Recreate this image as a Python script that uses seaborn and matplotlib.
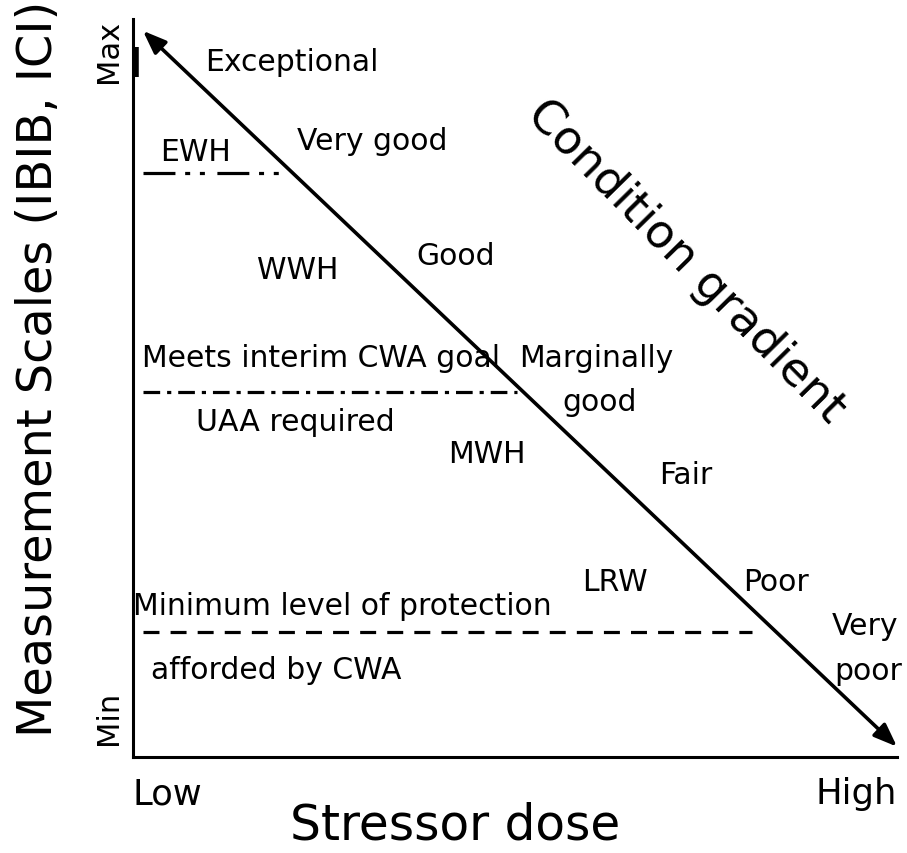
import matplotlib
matplotlib.use("Agg")
import matplotlib.pyplot as plt
import seaborn as sns
import pandas as pd

# ---- data ----
gradient_start = [0.013, 0.984]   # Low dose / Max condition
gradient_end = [1.0, 0.014]       # High dose / Min condition

threshold_names = ["EWH", "Interim CWA goal", "Minimum protection"]
threshold_y = [0.791, 0.495, 0.169]
threshold_x0 = [0.013, 0.013, 0.013]
threshold_x1 = [0.192, 0.503, 0.81]

condition_labels = ["Exceptional", "Very good", "Good", "Marginally", "good",
                    "Fair", "Poor", "Very", "poor"]
condition_x = [0.208, 0.313, 0.423, 0.606, 0.611, 0.724, 0.842, 0.958, 0.962]
condition_y = [0.943, 0.835, 0.680, 0.542, 0.482, 0.383, 0.238, 0.178, 0.117]

use_labels = ["EWH", "WWH", "Meets interim CWA goal", "UAA required", "MWH", "LRW",
              "Minimum level of protection", "afforded by CWA"]
use_x = [0.082, 0.216, 0.246, 0.212, 0.463, 0.631, 0.274, 0.188]
use_y = [0.821, 0.661, 0.542, 0.455, 0.411, 0.238, 0.205, 0.119]

x_tick_labels = ["Low", "High"]
y_tick_labels = ["Min", "Max"]

# ---- style ----
sns.set_theme(style="white")
plt.rcParams["font.family"] = ["DejaVu Sans"]
plt.rcParams["lines.scale_dashes"] = False
plt.rcParams["text.color"] = "black"
plt.rcParams["axes.labelcolor"] = "black"
plt.rcParams["xtick.color"] = "black"
plt.rcParams["ytick.color"] = "black"

fig = plt.figure(figsize=(9.07, 8.54), dpi=100)
ax = fig.add_axes([133 / 907, 1 - 758 / 854, 764 / 907, 738 / 854])
ax.set_xlim(0, 1)
ax.set_ylim(0, 1)

dash_styles = [(0, (23, 7, 3.6, 7, 3.6, 9)), (0, (12, 5, 3, 5)), (0, (11.5, 8))]
for name, y, x0, x1, ls in zip(threshold_names, threshold_y, threshold_x0, threshold_x1, dash_styles):
    df = pd.DataFrame({"x": [x0, x1], "y": [y, y]})
    sns.lineplot(data=df, x="x", y="y", ax=ax, color="black", lw=2.3,
                 linestyle=ls, estimator=None, sort=False, legend=False)

# condition gradient arrow
ax.annotate("", xy=gradient_end, xytext=gradient_start,
            arrowprops=dict(arrowstyle="<|-|>,head_length=0.7,head_width=0.27",
                            color="black", lw=2.6, mutation_scale=20,
                            shrinkA=0, shrinkB=0))

for t, x, y in zip(condition_labels, condition_x, condition_y):
    ax.text(x, y, t, ha="center", va="center", fontsize=21.5, color="black")
for t, x, y in zip(use_labels, use_x, use_y):
    ax.text(x, y, t, ha="center", va="center", fontsize=21.5, color="black")

ax.text(0.724, 0.672, "Condition gradient", rotation=-45.5, rotation_mode="anchor",
        ha="center", va="center", fontsize=33.5, color="black")

# Max marker bar on the axis
ax.plot([0.004, 0.004], [0.921, 0.962], color="black", lw=4, solid_capstyle="butt",
        clip_on=False)

# axes
for s in ["top", "right"]:
    ax.spines[s].set_visible(False)
for s in ["left", "bottom"]:
    ax.spines[s].set_color("black")
    ax.spines[s].set_linewidth(2.2)

ax.set_xticks([0, 1])
ax.set_xticklabels(x_tick_labels, fontsize=25.5)
xt = ax.get_xticklabels()
xt[0].set_ha("left")
xt[1].set_ha("right")
ax.tick_params(axis="x", length=0, pad=14)

ax.set_yticks([0.054, 0.957])
ax.set_yticklabels(y_tick_labels, fontsize=22, rotation=90, va="center")
ax.tick_params(axis="y", length=0, pad=7)

ax.set_xlabel("Stressor dose", fontsize=35)
ax.xaxis.set_label_coords(0.422, -0.091)
ax.xaxis.label.set_va("center")
ax.set_ylabel("Measurement Scales (IBIB, ICI)", fontsize=34.5)
ax.yaxis.set_label_coords(-0.124, 0.527)
ax.yaxis.label.set_va("center")

fig.savefig("out.png", dpi=100, facecolor="white")
